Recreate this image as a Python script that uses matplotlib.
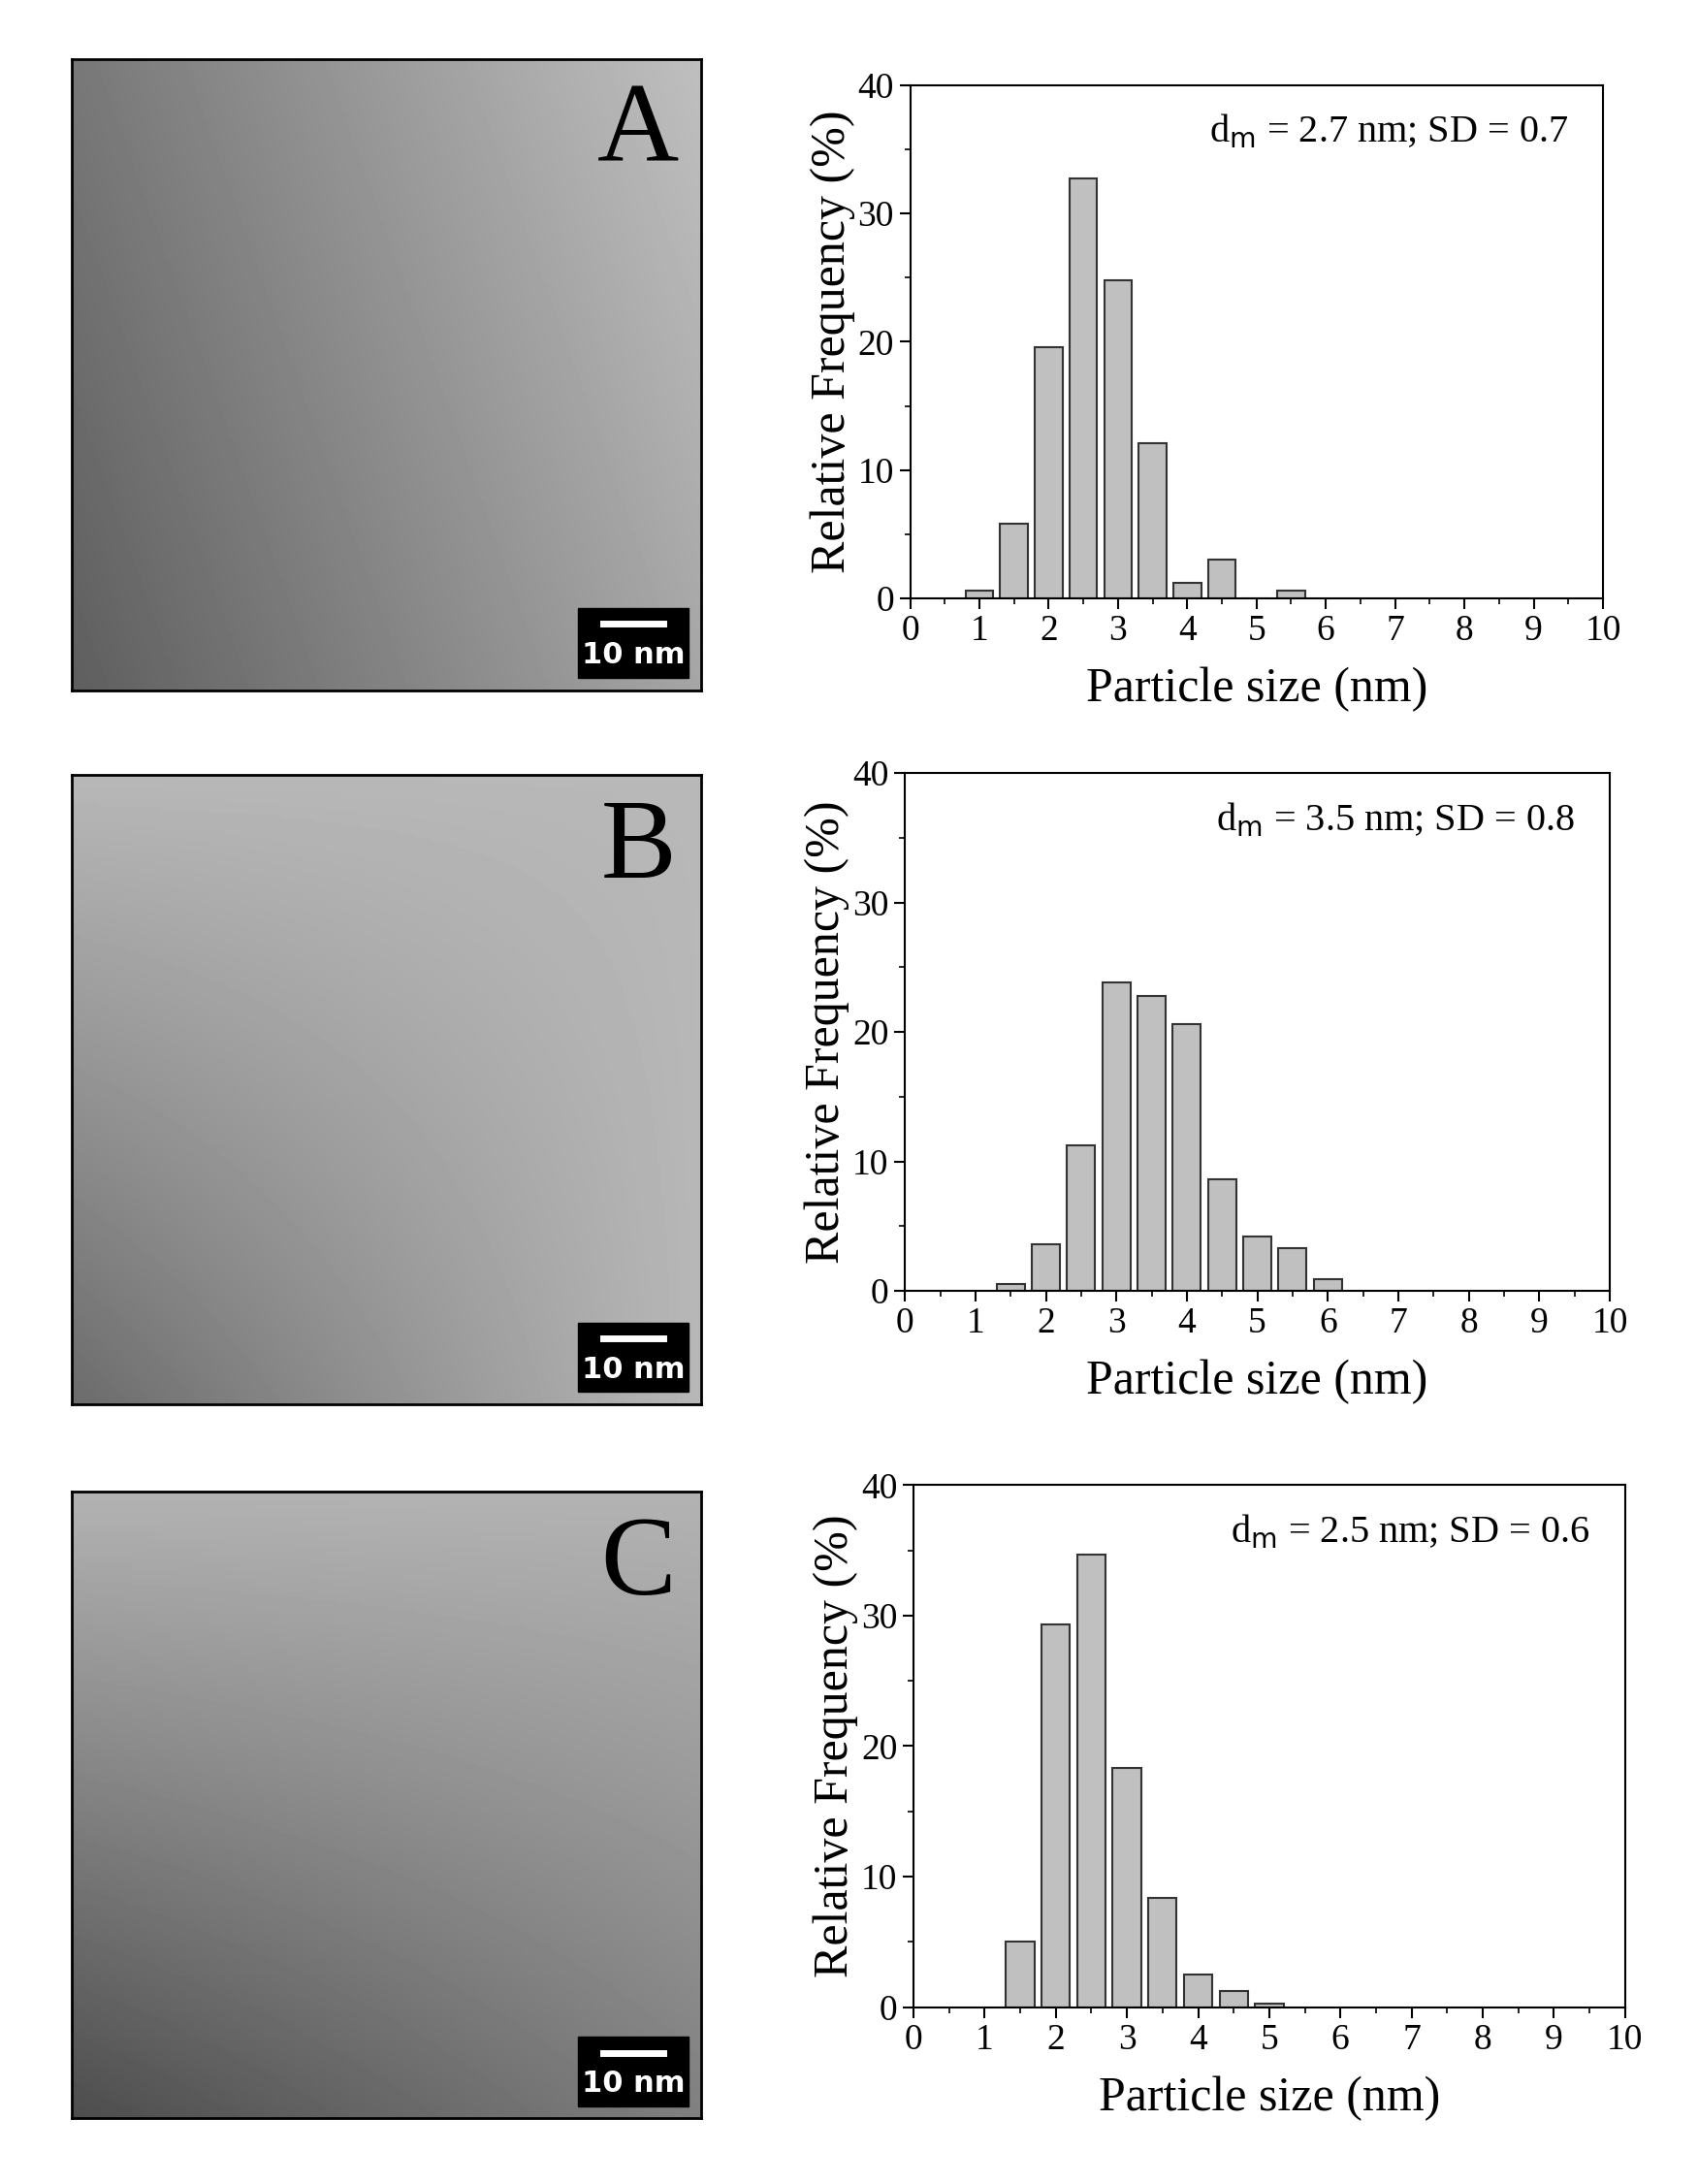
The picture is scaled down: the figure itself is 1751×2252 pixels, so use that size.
import numpy as np
import matplotlib.pyplot as plt

plt.rcParams.update({
    "font.family": ["Liberation Serif", "DejaVu Serif"],
    "xtick.labelsize": 27,
    "ytick.labelsize": 27,
    "axes.labelsize": 36,
})

# bar centres (nm) and relative frequencies (%)
sizes_a = [1.0, 1.5, 2.0, 2.5, 3.0, 3.5, 4.0, 4.5, 5.0, 5.5]
freq_a = [0.6, 5.8, 19.6, 32.7, 24.8, 12.1, 1.2, 3.0, 0.0, 0.6]
sizes_b = [1.5, 2.0, 2.5, 3.0, 3.5, 4.0, 4.5, 5.0, 5.5, 6.0]
freq_b = [0.5, 3.6, 11.2, 23.8, 22.8, 20.6, 8.6, 4.2, 3.3, 0.9]
sizes_c = [1.5, 2.0, 2.5, 3.0, 3.5, 4.0, 4.5, 5.0]
freq_c = [5.0, 29.3, 34.7, 18.3, 8.4, 2.5, 1.2, 0.3]
labels = ["A", "B", "C"]
notes = ["2.7 nm; SD = 0.7", "3.5 nm; SD = 0.8", "2.5 nm; SD = 0.6"]

fig = plt.figure(figsize=(17.51, 22.52), dpi=100)

hist_boxes = [(0.536, 0.726, 0.408, 0.235),
              (0.533, 0.409, 0.415, 0.237),
              (0.538, 0.081, 0.419, 0.239)]
img_boxes = [(0.042, 0.684, 0.371, 0.289),
             (0.042, 0.357, 0.371, 0.288),
             (0.042, 0.030, 0.371, 0.287)]

data = [(sizes_a, freq_a), (sizes_b, freq_b), (sizes_c, freq_c)]

# smooth grey stand-in for the micrographs
yy, xx = np.mgrid[0:200, 0:200] / 200.0
shades = [0.75 - 0.35 * (1 - xx) * 0.8 - 0.1 * yy,
          0.72 - 0.3 * (1 - xx) * yy,
          0.7 - 0.4 * yy * (1 - 0.5 * xx)]

for i in range(3):
    ax = fig.add_axes(img_boxes[i])
    ax.imshow(shades[i], cmap="gray", vmin=0, vmax=1, aspect="auto")
    ax.set_xticks([])
    ax.set_yticks([])
    for s in ax.spines.values():
        s.set_linewidth(2)
    ax.text(0.9, 0.88, labels[i], transform=ax.transAxes, fontsize=84,
            ha="center", va="center")
    ax.add_patch(plt.Rectangle((0.805, 0.02), 0.175, 0.11, transform=ax.transAxes,
                               color="black"))
    ax.plot([0.845, 0.94], [0.105, 0.105], transform=ax.transAxes, color="white", lw=5)
    ax.text(0.892, 0.055, "10 nm", transform=ax.transAxes, color="white",
            fontsize=22, ha="center", va="center", family="DejaVu Sans",
            fontweight="bold")

    hx = fig.add_axes(hist_boxes[i])
    x, f = data[i]
    hx.bar(x, f, width=0.4, color="#c0c0c0", edgecolor="#333333", linewidth=1.5)
    hx.set_xlim(0, 10)
    hx.set_ylim(0, 40)
    hx.set_xticks(range(0, 11))
    hx.set_yticks([0, 10, 20, 30, 40])
    hx.set_xticks(np.arange(0.5, 10, 1), minor=True)
    hx.set_yticks([5, 15, 25, 35], minor=True)
    hx.tick_params(which="major", length=8, width=1.5, pad=4)
    hx.tick_params(which="minor", length=4, width=1.2)
    for s in hx.spines.values():
        s.set_linewidth(1.5)
    hx.set_xlabel("Particle size (nm)", labelpad=14)
    hx.set_ylabel("Relative Frequency (%)", labelpad=2)
    hx.text(0.95, 0.91, r"d$_{\rm m}$ = " + notes[i], transform=hx.transAxes,
            fontsize=29, ha="right", va="center")

fig.savefig("out.png", dpi=100)
